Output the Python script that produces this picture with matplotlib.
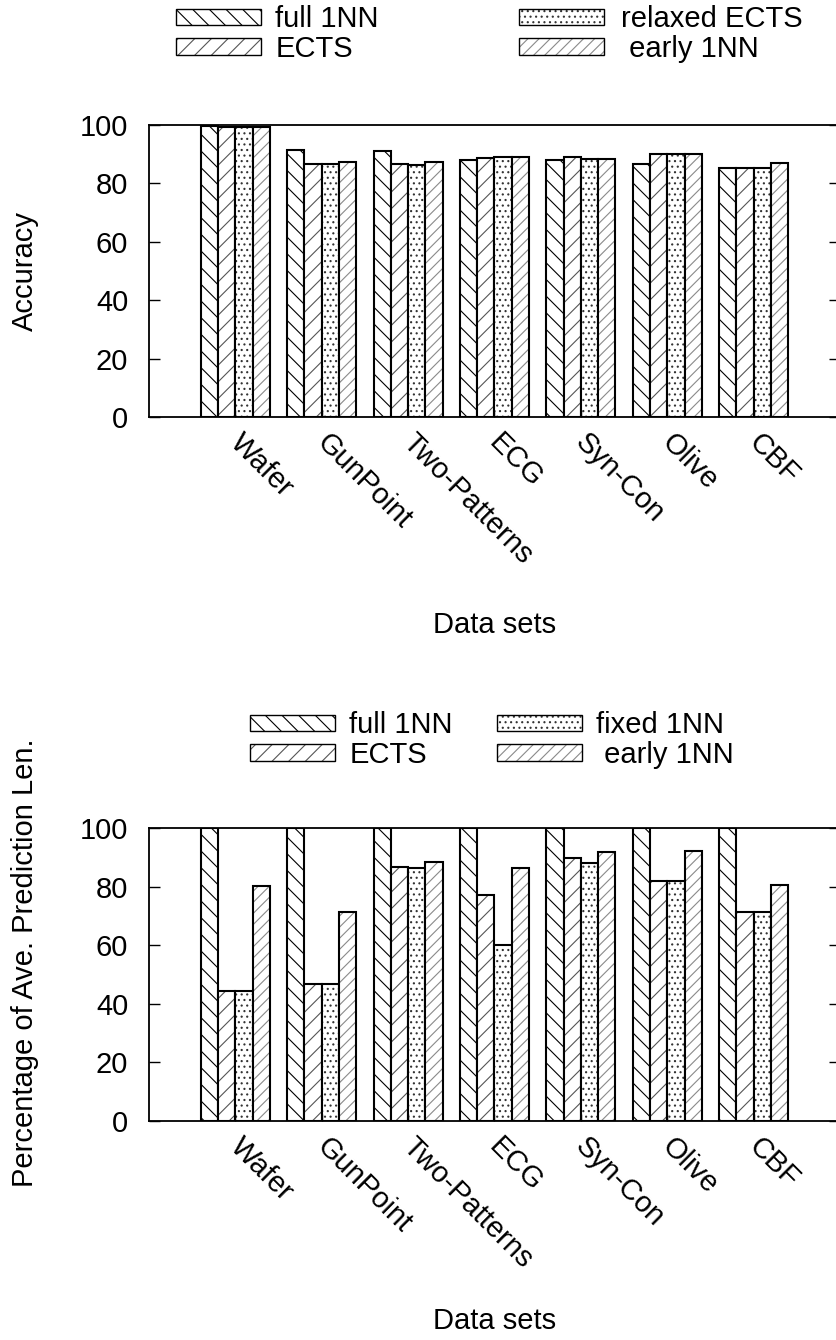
import numpy as np
import matplotlib
matplotlib.use('Agg')
import matplotlib.pyplot as plt
from matplotlib.patches import Patch
from matplotlib.transforms import ScaledTranslation

plt.rcParams['font.family'] = ['Liberation Sans', 'DejaVu Sans']
plt.rcParams['font.size'] = 21
plt.rcParams['hatch.linewidth'] = 0.8

datasets = ['Wafer', 'GunPoint', 'Two-Patterns', 'ECG', 'Syn-Con', 'Olive', 'CBF']

# accuracy (%)
acc_full = [99.8, 91.3, 91.0, 88.0, 88.0, 86.7, 85.2]
acc_ects = [99.2, 86.8, 86.5, 88.8, 88.9, 90.0, 85.2]
acc_relaxed = [99.2, 86.8, 86.4, 88.9, 88.2, 90.0, 85.2]
acc_early = [99.2, 87.2, 87.2, 88.9, 88.2, 90.0, 86.9]

# average prediction length, % of full length
len_full = [100, 100, 100, 100, 100, 100, 100]
len_ects = [44.3, 46.9, 86.7, 77.1, 89.9, 81.9, 71.5]
len_fixed = [44.3, 46.9, 86.4, 60.1, 88.0, 81.9, 71.5]
len_early = [80.2, 71.5, 88.4, 86.5, 91.8, 92.3, 80.6]

top_names = ['full 1NN', 'ECTS', 'relaxed ECTS', ' early 1NN']
bot_names = ['full 1NN', 'ECTS', 'fixed 1NN', ' early 1NN']

# hatch, hatch colour
styles = [('\\\\', 'black'), ('//', '#555555'), ('...', '#333333'), ('///', '#8a8a8a')]
bw = 0.2

W, H = 837, 1340
fig = plt.figure(figsize=(W / 100, H / 100), dpi=100)
shift = ScaledTranslation(9 / 100, -3 / 100, fig.dpi_scale_trans)


def panel(top_px, bottom_px, series, names, ylabel, ylab_y, xlab_base, leg_cols, leg_y):
    ax = fig.add_axes([149 / W, 1 - bottom_px / H, 691 / W, (bottom_px - top_px) / H])
    x = np.arange(1, len(datasets) + 1)
    handles = []
    for i, (vals, (hatch, hc)) in enumerate(zip(series, styles)):
        pos = x + (i - 1.5) * bw
        ax.bar(pos, vals, bw, color='white', edgecolor=hc, hatch=hatch, linewidth=0)
        ax.bar(pos, vals, bw, fill=False, edgecolor='black', linewidth=1.5)
        handles.append((Patch(facecolor='white', edgecolor=hc, hatch=hatch, linewidth=0),
                        Patch(fill=False, edgecolor='black', linewidth=1.0)))
    ax.set_xlim(0, 8)
    ax.set_ylim(0, 100)
    ax.set_yticks(range(0, 101, 20))
    ax.tick_params(axis='y', direction='in', length=8, width=1, right=True, pad=15)
    ax.tick_params(axis='x', direction='in', length=5, width=1, top=False, pad=6)
    ax.set_xticks(x)
    ax.set_xticklabels(datasets, rotation=-45, ha='left', va='top', rotation_mode='anchor')
    for lab in ax.get_xticklabels():
        lab.set_transform(lab.get_transform() + shift)
    for s in ax.spines.values():
        s.set_linewidth(1.3)

    ax.set_xlabel('Data sets', va='baseline')
    ax.xaxis.set_label_coords(0.5, xlab_base)
    ax.set_ylabel(ylabel, va='baseline')
    ax.yaxis.set_label_coords(-0.168, ylab_y)

    # two legend columns, two entries each
    for c, (lx, pad) in enumerate(leg_cols):
        fig.legend(handles[2 * c:2 * c + 2], names[2 * c:2 * c + 2],
                   loc='center left', bbox_to_anchor=(lx / W, 1 - leg_y / H),
                   frameon=False, borderpad=0, borderaxespad=0,
                   handlelength=2.9, handleheight=0.5, handletextpad=pad,
                   labelspacing=0.05)
    return ax


panel(125, 417, [acc_full, acc_ects, acc_relaxed, acc_early], top_names,
      'Accuracy', 0.5, -0.739, [(176, 0.5), (519, 0.6)], 34)
panel(828, 1121, [len_full, len_ects, len_fixed, len_early], bot_names,
      'Percentage of Ave. Prediction Len.', 0.54, -0.709, [(250, 0.5), (497, 0.5)], 740)

fig.savefig('out.png', dpi=100)
